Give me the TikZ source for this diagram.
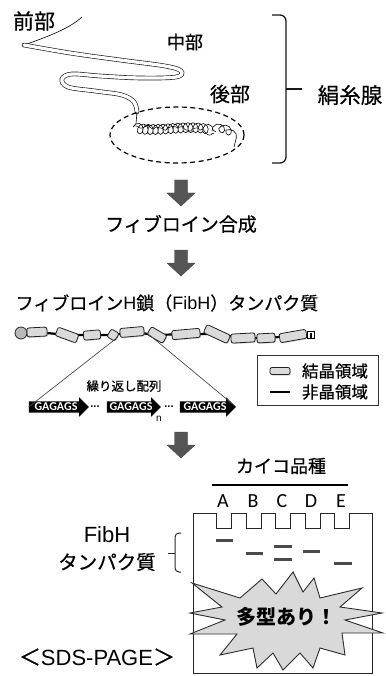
\documentclass[tikz,border=0pt]{standalone}
\usepackage{fontspec}
\setmainfont{Noto Sans CJK JP}[UprightFeatures={FakeBold=0.6}]
\newfontfamily\lat{Liberation Sans}
\newfontfamily\carl{Carlito}
\usetikzlibrary{shapes.arrows,shadows,decorations.pathmorphing}

\definecolor{arrowgray}{HTML}{555555}
\definecolor{bandgray}{HTML}{4A4A4A}
\definecolor{cylfill}{HTML}{DADADA}
\definecolor{burstfill}{HTML}{D9D9D9}

\tikzset{
  lbl/.style={inner sep=0pt, text=black},
  cyl/.style={draw=gray!25!black, line width=0.8pt, fill=cylfill, rounded corners=2pt,
    minimum height=9pt, inner sep=0pt,
    drop shadow={shadow xshift=0.8pt, shadow yshift=-1pt, opacity=0.35}},
  link/.style={line width=2.2pt, black},
  repunit/.style={single arrow, fill=black, text=white, inner sep=1.5pt,
    font=\carl\bfseries\fontsize{12}{12}\selectfont,
    single arrow head extend=4pt, single arrow head indent=0pt},
  zoomline/.style={gray!60!black, line width=0.7pt},
  band/.style={line width=3pt, bandgray},
  gel/.style={draw=gray!30!black, line width=1pt},
  downarrow/.pic={
    \filldraw[fill=arrowgray, draw=arrowgray!80!black]
      (-6.5,0) -- (6.5,0) -- (6.5,13) -- (14,13) -- (0,26) -- (-14,13) -- (-6.5,13) -- cycle;
  }
}

\begin{document}
\begin{tikzpicture}[x=1pt, y=-1pt]
	\useasboundingbox (0,0) rectangle (385,676);
	\pgfmathsetseed{7}

	% silk gland
	\node[lbl, font=\fontsize{21}{21}\selectfont] (front) at (34,21) {前部};
	\node[lbl, font=\fontsize{18}{18}\selectfont] (middle) at (185,42) {中部};
	\node[lbl, font=\fontsize{20}{20}\selectfont] (post) at (230,94) {後部};
	\node[lbl, font=\fontsize{21.5}{21.5}\selectfont] (gland) at (350,95) {絹糸腺};

	\draw[line width=0.6pt] (82,17) .. controls (70,28) and (50,36) .. (24,45);
	\draw[line width=4.6pt, gray!20!black, line cap=round] plot[smooth, tension=0.6] coordinates
		{(24,45) (70,53) (120,60) (165,66) (181,71) (176,77) (140,78) (100,76) (72,74) (62,79) (68,87) (95,91) (122,95) (134,102) (137,112)};
	\draw[line width=3.3pt, white, line cap=round] plot[smooth, tension=0.6] coordinates
		{(24,45) (70,53) (120,60) (165,66) (181,71) (176,77) (140,78) (100,76) (72,74) (62,79) (68,87) (95,91) (122,95) (134,102) (137,112)};
	\draw[line width=0.6pt] (137,112) -- (136,124);
	\draw[line width=0.6pt, decorate, decoration={coil, aspect=0.8, amplitude=5pt, segment length=5pt}]
		(133,127) .. controls (160,134) and (190,122) .. (216,132);
	\draw[line width=0.5pt, decorate, decoration={random steps, segment length=3pt, amplitude=3pt}, rounded corners=1pt]
		(134,126) .. controls (160,131) and (190,126) .. (214,134);
	\draw[line width=0.6pt, decorate, decoration={coil, aspect=0.9, amplitude=5pt, segment length=7pt}]
		(212,131) .. controls (224,127) and (232,134) .. (234,147);

	\draw[line width=1.2pt, dash pattern=on 5pt off 3.5pt] (177,135) ellipse [x radius=67pt, y radius=28pt];

	% bracket
	\draw[line width=1.3pt, gray!20!black, rounded corners=6pt] (272,15) -- (286,15) -- (286,163) -- (272,163);
	\draw[line width=1.3pt, gray!20!black] (286,89) -- (302,89);

	\pic at (181,180) {downarrow};
	\node[lbl, font=\fontsize{19}{19}\selectfont] (synth) at (181,224) {フィブロイン合成};
	\pic at (181,250) {downarrow};
	\node[lbl, font=\fontsize{18}{18}\selectfont] (fibh) at (167,303) {フィブロイン{\lat H}鎖（{\lat FibH}）タンパク質};

	% protein chain
	\coordinate (p0) at (21,333);
	\foreach \i/\x/\y in {1/37/332, 2/67/335, 3/92/335, 4/113/335, 5/132/332, 6/157/335,
		7/186/334, 8/217/334, 9/243/338, 10/266/338, 11/293/336}
		\coordinate (p\i) at (\x,\y);
	\coordinate (pend) at (311,335);
	\draw[link] (p0) \foreach \i in {1,...,11} { -- (p\i) } -- (pend);
	\filldraw[fill=gray!55, draw=gray!30!black, line width=0.8pt] (p0) circle [radius=6pt];
	\foreach \i/\len/\ang in {1/20/3, 2/22/-20, 3/17/5, 4/9/-30, 5/24/5, 6/18/-30,
		7/28/5, 8/26/-25, 9/24/3, 10/18/3, 11/27/10}
		\node[cyl, minimum width=\len pt, rotate=\ang] (c\i) at (p\i) {};
	\node[draw=black, fill=white, line width=1pt, minimum size=7pt, inner sep=0pt] (cend) at (pend) {};
	\fill (cend.center) ++(-0.8,-2.5) rectangle ++(1.6,5);

	% repeat units
	\node[lbl, font=\fontsize{12.5}{12.5}\selectfont] (rep) at (124,386) {繰り返し配列};
	\node[repunit, minimum height=60pt] (u1) at (56,407) {GAGAGS};
	\node[repunit, minimum height=54pt] (u2) at (131,407) {GAGAGS};
	\node[repunit, minimum height=56pt] (u3) at (205,407) {GAGAGS};
	\node[lbl, font=\lat\bfseries\fontsize{11}{11}\selectfont] (d1) at (95,407) {...};
	\node[lbl, font=\lat\bfseries\fontsize{11}{11}\selectfont] (d2) at (169,407) {...};
	\node[lbl, font=\lat\fontsize{10}{10}\selectfont] (nsub) at (159,419) {n};
	\coordinate (zl) at (118,337);
	\coordinate (zr) at (147,333);
	\draw[zoomline] (zl) -- (u1.tail);
	\draw[zoomline] (zr) -- (u3.tip);

	% legend
	\node[draw=gray!40!black, line width=1pt, minimum width=121pt, minimum height=50pt] (legend) at (317.5,380) {};
	\node[cyl, minimum width=20pt, minimum height=7pt] (lcyl) at (280,371) {};
	\draw[link] (270,392) -- (290,392);
	\node[lbl, font=\fontsize{16.5}{16.5}\selectfont] (cryst) at (335,371) {結晶領域};
	\node[lbl, font=\fontsize{16.5}{16.5}\selectfont] (amorph) at (335,392) {非晶領域};

	\pic at (181,432) {downarrow};

	% SDS-PAGE
	\node[lbl, font=\fontsize{18}{18}\selectfont] (breed) at (281,466) {カイコ品種};
	\draw[line width=1.2pt] (212,485) -- (348,485);
	\foreach \l/\x in {A/223, B/253, C/282, D/311, E/341}
		\node[lbl, font=\carl\fontsize{20}{20}\selectfont] (lane\l) at (\x,501) {\l};
	\draw[gel] (193,673) -- (193,513) \foreach \w in {216,246,275,305,334} { -- (\w,513) -- (\w,528) -- ++(15,0) -- ++(0,-15) } -- (372,513) -- (372,673) -- cycle;
	\draw[band] (216,540) -- (233,540);
	\draw[band] (246,553) -- (263,553);
	\draw[band] (274,546) -- (292,546);
	\draw[band] (274,559) -- (292,559);
	\draw[band] (303,551) -- (320,551);
	\draw[band] (334,563) -- (352,563);

	\node[lbl, font=\lat\fontsize{22}{22}\selectfont] (fibhlbl) at (107,535) {FibH};
	\node[lbl, font=\fontsize{19.5}{19.5}\selectfont] (protein) at (107,562) {タンパク質};
	\draw[line width=1pt, gray!30!black, rounded corners=4pt] (181,533) -- (175,533) -- (175,572) -- (181,572);
	\draw[line width=1pt, gray!30!black] (175,553) -- (168,553);

	\filldraw[fill=burstfill, draw=gray!35!black, line width=0.9pt]
		(192,583) -- (240,598) -- (262,579) -- (276,594) -- (293,572) -- (303,592) -- (314,578) -- (320,598)
		-- (362,588) -- (340,607) -- (382,613) -- (345,620) -- (383,633) -- (342,633) -- (345,655) -- (320,648)
		-- (313,668) -- (300,653) -- (283,670) -- (273,653) -- (257,668) -- (253,648) -- (220,655) -- (237,634)
		-- (190,634) -- (225,620) -- (190,613) -- (222,607) -- cycle;
	\node[lbl, font=\bfseries\fontsize{20}{20}\selectfont] (poly) at (286,617) {多型あり！};

	\node[lbl, font=\fontsize{22}{22}\selectfont] (sds) at (97,657) {＜{\lat SDS-PAGE}＞};
\end{tikzpicture}
\end{document}
